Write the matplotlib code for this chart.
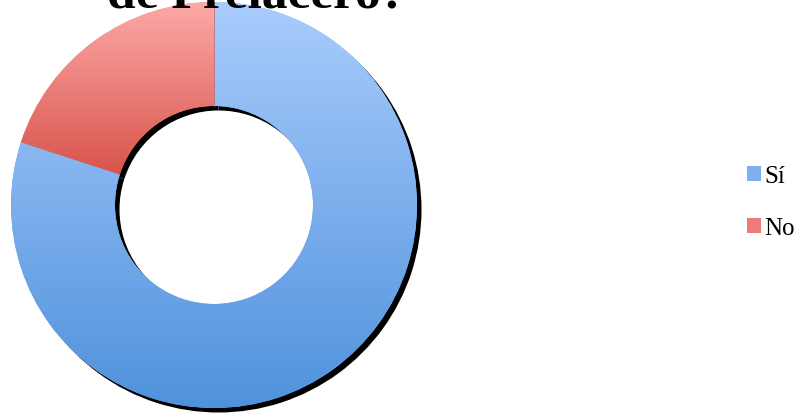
import numpy as np
import matplotlib.pyplot as plt
from matplotlib.colors import LinearSegmentedColormap

# --- datos ---
labels = ["Sí", "No"]
values = [80, 20]
grad_top = ["#a9ccfc", "#fdaaa8"]
grad_bottom = ["#4f92dc", "#d9544c"]
mid_colors = ["#7db0ee", "#ec7c78"]
title = "de Prelacero?"

W, H = 805, 414
fig = plt.figure(figsize=(W / 100, H / 100), dpi=100)

# ejes en pixeles, centro del anillo
cx, cy, half = 214, 208, 220
ax = fig.add_axes([(cx - half) / W, (cy - half) / H, 2 * half / W, 2 * half / H])

R = 203
ring_w = R - 99

# sombra negra desplazada
ax.pie(values, radius=R, center=(4.5, -4.5), startangle=90, counterclock=False,
       colors=["black"] * len(values), frame=True,
       wedgeprops=dict(width=ring_w, linewidth=0))

wedges, _ = ax.pie(values, radius=R, startangle=90, counterclock=False,
                   colors=mid_colors, frame=True,
                   wedgeprops=dict(width=ring_w, linewidth=0))

# relleno degradado por porcion
for w, ct, cb in zip(wedges, grad_top, grad_bottom):
    ext = w.get_path().get_extents()
    cmap = LinearSegmentedColormap.from_list("g", [cb, ct])
    grad = np.linspace(1, 0, 256).reshape(-1, 1)
    im = ax.imshow(grad, cmap=cmap, aspect="auto", origin="upper",
                   extent=[ext.x0, ext.x1, ext.y0, ext.y1], zorder=w.get_zorder() + 0.1,
                   vmin=0, vmax=1)
    im.set_clip_path(w)

# linea fina entre porciones
ax.plot([0, 0], [99, R], color="#c07070", lw=0.6, zorder=5)

ax.set_xlim(-half, half)
ax.set_ylim(-half, half)
ax.axis("off")

fig.text(257 / W, (H - 8) / H, title, ha="center", va="baseline",
         fontsize=37, fontweight="bold", family="Liberation Serif")

fig.legend(wedges, labels, loc="center left", bbox_to_anchor=(747 / W, (H - 203) / H),
           frameon=False, borderpad=0, borderaxespad=0,
           prop=dict(family="Liberation Serif", size=18),
           handlelength=0.55, handleheight=0.55, handletextpad=0.15, labelspacing=1.2)

fig.savefig("out.png", dpi=100)
